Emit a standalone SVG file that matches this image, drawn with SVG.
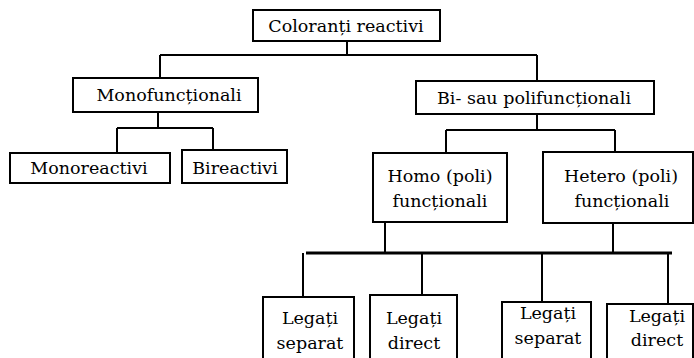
<svg xmlns="http://www.w3.org/2000/svg" width="694" height="358" viewBox="0 0 694 358">
<style>
rect{fill:#fff;stroke:#000;stroke-width:2}
text{font-family:'DejaVu Serif',serif;font-size:17.5px;fill:#000;text-anchor:middle}
.c path{fill:none;stroke:#000;stroke-width:2}
</style>
<rect x="0" y="0" width="694" height="358" style="stroke:none"/>
<g class="c" id="connectors">
<path d="M347 41V55M160 55H537M160 55V78M537 55V81"/>
<path d="M158 112V128M117 128H213M117 128V153M213 128V150"/>
<path d="M537 114V130M446 130H615M446 130V153M615 130V152"/>
<path d="M385 222V253M613 223V253M303 253V297M422 253V295M542 253V302M668 253V304"/>
<path d="M306 253H672" style="stroke-width:3"/>
</g>
<g id="n-colorant"><rect x="253" y="10" width="187" height="31"/><text x="346" y="32">Coloranți reactivi</text></g>
<g id="n-mono"><rect x="73" y="78" width="185" height="34"/><text x="169" y="101">Monofuncționali</text></g>
<g id="n-bi"><rect x="416" y="81" width="238" height="33"/><text x="534" y="104">Bi- sau polifuncționali</text></g>
<g id="n-monoreactivi"><rect x="10" y="153" width="160" height="30"/><text x="89" y="174">Monoreactivi</text></g>
<g id="n-bireactivi"><rect x="182" y="150" width="105" height="33"/><text x="235" y="174">Bireactivi</text></g>
<g id="n-homo"><rect x="373" y="153" width="134" height="69"/><text x="440" y="182">Homo (poli)</text><text x="440" y="207">funcționali</text></g>
<g id="n-hetero"><rect x="543" y="152" width="150" height="71"/><text x="621" y="182">Hetero (poli)</text><text x="622" y="207">funcționali</text></g>
<g id="n-ls1"><rect x="263" y="297" width="91" height="80"/><text x="310" y="324">Legați</text><text x="310" y="349">separat</text></g>
<g id="n-ld1"><rect x="370" y="295" width="87" height="80"/><text x="414" y="324">Legați</text><text x="414" y="349">direct</text></g>
<g id="n-ls2"><rect x="502" y="302" width="89" height="80"/><text x="548" y="319">Legați</text><text x="548" y="344">separat</text></g>
<g id="n-ld2"><rect x="607" y="304" width="86" height="80"/><text x="657" y="322">Legați</text><text x="657" y="346">direct</text></g>
</svg>
